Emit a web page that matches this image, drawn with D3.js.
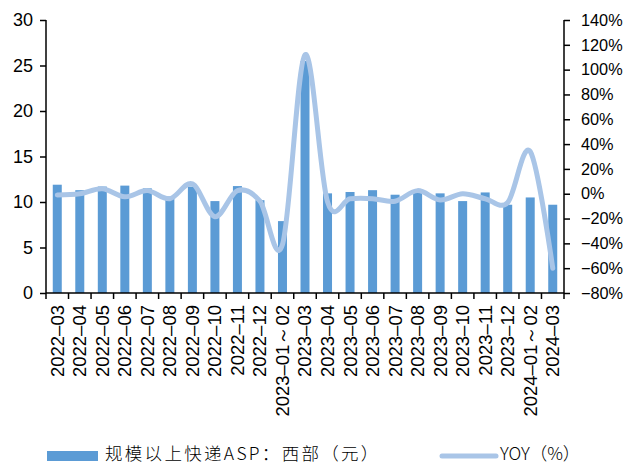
<!DOCTYPE html>
<html><head><meta charset="utf-8">
<script src="https://cdn.jsdelivr.net/npm/d3@7"></script>
<style>body{margin:0;background:#fff}svg{display:block}</style>
</head><body>
<svg id="c" width="625" height="466"></svg>
<script>
const categories = ["2022–03","2022–04","2022–05","2022–06","2022–07","2022–08","2022–09","2022–10","2022–11","2022–12","2023–01～02","2023–03","2023–04","2023–05","2023–06","2023–07","2023–08","2023–09","2023–10","2023–11","2023–12","2024–01～02","2024–03"];
const aspValues = [11.9,11.3,11.7,11.8,11.5,10.6,11.7,10.1,11.75,10.2,7.9,25.5,10.95,11.1,11.3,10.8,11.1,10.95,10.1,11.05,9.7,10.5,9.7];
const yoyValues = [-1,0,4,-2.5,2.5,-4,8,-18.5,2.5,-6,-41,112,-6.5,-4,-4,-6,2.5,-5,0,-4,-7,34,-60];
const leftTicks = [0,5,10,15,20,25,30];
const rightTicks = [-80,-60,-40,-20,0,20,40,60,80,100,120,140];
const legendLabels = ["规模以上快递ASP：西部（元）","YOY（%）"];

const svg = d3.select("#c");
const L = 46, R = 564, T = 20, B = 293;
const xb = d3.scaleBand().domain(categories).range([L, R]);
const yL = d3.scaleLinear().domain([0,30]).range([B,T]);
const yR = d3.scaleLinear().domain([-80,140]).range([B,T]);
const barColor = "#5B9BD5", lineColor = "#A9C5E7";
const font = "'Liberation Sans', Arial, sans-serif";

svg.append("g").selectAll("rect").data(aspValues).join("rect")
  .attr("x", (d,i)=> xb(categories[i]) + xb.bandwidth()/2 - 4.5)
  .attr("width", 9)
  .attr("y", d=>yL(d)).attr("height", d=>B - yL(d))
  .attr("fill", barColor);

const line = d3.line().x((d,i)=> xb(categories[i]) + xb.bandwidth()/2).y(d=>yR(d)).curve(d3.curveCardinal.tension(0));
svg.append("path").datum(yoyValues).attr("d", line).attr("fill","none")
  .attr("stroke", lineColor).attr("stroke-width", 5).attr("stroke-linecap","round");

// left axis
const gl = svg.append("g").attr("transform",`translate(${L},0)`)
  .call(d3.axisLeft(yL).tickValues(leftTicks).tickSize(6).tickPadding(7).tickFormat(d3.format("d")));
gl.selectAll("text").attr("font-size",18).attr("font-family",font).attr("fill","#000");
gl.selectAll("line,path").attr("stroke","#000").attr("stroke-width",1.5);
gl.select(".domain").attr("d",`M0,${T}V${B}`);

// right axis
const gr = svg.append("g").attr("transform",`translate(${R},0)`)
  .call(d3.axisRight(yR).tickValues(rightTicks).tickSize(6).tickPadding(11).tickFormat(d=> (d<0?"−"+(-d):d)+"%"));
gr.selectAll("text").attr("font-size",16.3).attr("font-family",font).attr("fill","#000");
gr.selectAll("line,path").attr("stroke","#000").attr("stroke-width",1.5);
gr.select(".domain").attr("d",`M0,${T}V${B}`);

// x axis
const gx = svg.append("g").attr("transform",`translate(0,${B})`)
  .call(d3.axisBottom(xb).tickSize(0).tickPadding(0));
gx.select(".domain").attr("d",`M${L},0H${R}`).attr("stroke","#000").attr("stroke-width",1.5);
gx.selectAll(".tick text").attr("font-size",18.5).attr("font-family",font).attr("fill","#000")
  .attr("transform","rotate(-90)").attr("text-anchor","end").attr("x",-12).attr("y",0).attr("dy","0.35em");
svg.append("g").selectAll("line").data(d3.range(categories.length+1)).join("line")
  .attr("x1", i=> L + i*xb.step()).attr("x2", i=> L + i*xb.step())
  .attr("y1", B).attr("y2", B+6).attr("stroke","#000").attr("stroke-width",1.5);

// legend
const lg = svg.append("g");
lg.append("rect").attr("x",47).attr("y",451).attr("width",51).attr("height",10).attr("fill",barColor);
lg.append("text").attr("x",105).attr("y",454).attr("dy","0.35em").attr("font-size",17.5).attr("letter-spacing",2.3)
  .attr("font-family","'Noto Sans CJK SC', sans-serif").attr("font-weight",300).attr("fill","#000").text(legendLabels[0]);
lg.append("line").attr("x1",442).attr("x2",496).attr("y1",456).attr("y2",456)
  .attr("stroke",lineColor).attr("stroke-width",5).attr("stroke-linecap","round");
lg.append("text").attr("x",500).attr("y",454).attr("dy","0.35em").attr("font-size",17.5)
  .attr("font-family","'Noto Sans CJK SC', sans-serif").attr("font-weight",300).attr("fill","#000").text(legendLabels[1]);
</script>
</body></html>
